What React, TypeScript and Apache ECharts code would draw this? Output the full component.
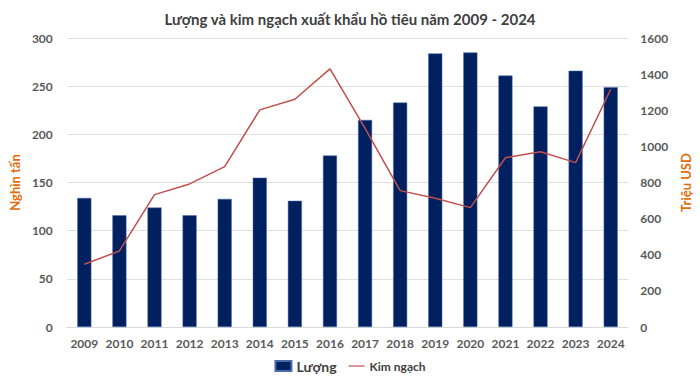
import React, { useEffect, useRef } from "react";
import * as echarts from "echarts";

const years = ["2009","2010","2011","2012","2013","2014","2015","2016","2017","2018","2019","2020","2021","2022","2023","2024"];
const volume = [134, 116, 124, 116, 133, 155, 131, 178, 215, 233, 284, 285, 261, 229, 266, 249];
const value = [347, 421, 733, 792, 888, 1202, 1261, 1429, 1100, 755, 713, 661, 937, 970, 910, 1316];

const FONT = "Lato, 'Open Sans', sans-serif";

export default function App() {
  const ref = useRef<HTMLDivElement>(null);
  useEffect(() => {
    if (!ref.current) return;
    const chart = echarts.init(ref.current, undefined, { renderer: "svg" });
    chart.setOption({
      animation: false,
      backgroundColor: "#ffffff",
      textStyle: { fontFamily: FONT },
      title: {
        text: "Lượng và kim ngạch xuất khẩu hồ tiêu năm 2009 - 2024",
        left: "center",
        top: 6,
        textStyle: { fontFamily: FONT, fontSize: 15, fontWeight: "bold", color: "#404040" },
      },
      legend: {
        bottom: 4,
        left: "center",
        itemGap: 12,
        itemWidth: 16,
        itemHeight: 10,
        data: [
          { name: "Lượng", icon: "rect", textStyle: { fontSize: 14, color: "#404040", fontWeight: "bold" } },
          { name: "Kim ngạch", icon: "path://M0,5 L20,5 L20,6.5 L0,6.5 Z", itemStyle: { color: "#C0504D" }, textStyle: { fontSize: 12, color: "#404040", fontWeight: "bold" } },
        ],
        textStyle: { fontFamily: FONT },
      },
      grid: { left: 61, right: 68, top: 38, bottom: 55 },
      xAxis: {
        type: "category",
        data: years,
        axisLine: { lineStyle: { color: "#d9d9d9" } },
        axisTick: { show: false },
        axisLabel: { color: "#595959", fontWeight: "bold", fontSize: 12, margin: 10, fontFamily: FONT, interval: 0 },
      },
      yAxis: [
        {
          type: "value",
          min: 0,
          max: 300,
          interval: 50,
          name: "Nghìn tấn",
          nameLocation: "middle",
          nameRotate: 90,
          nameGap: 40,
          nameTextStyle: { color: "#E46C0A", fontWeight: "bold", fontSize: 13, fontFamily: FONT },
          axisLine: { show: false },
          axisTick: { show: false },
          axisLabel: { color: "#595959", fontWeight: "bold", fontSize: 12, margin: 14, fontFamily: FONT },
          splitLine: { lineStyle: { color: "#e0e0e0" } },
        },
        {
          type: "value",
          min: 0,
          max: 1600,
          interval: 200,
          name: "Triệu USD",
          nameLocation: "middle",
          nameRotate: 90,
          nameGap: 42,
          nameTextStyle: { color: "#E46C0A", fontWeight: "bold", fontSize: 13, fontFamily: FONT },
          axisLine: { show: false },
          axisTick: { show: false },
          axisLabel: {
            color: "#595959",
            fontWeight: "bold",
            fontSize: 12,
            margin: 12,
            fontFamily: FONT,
            formatter: (v: number) => String(v),
          },
          splitLine: { show: false },
        },
      ],
      series: [
        {
          name: "Lượng",
          type: "bar",
          data: volume,
          barWidth: "40%",
          itemStyle: { color: "#002060", borderColor: "#4a6aa8", borderWidth: 0.5 },
        },
        {
          name: "Kim ngạch",
          type: "line",
          yAxisIndex: 1,
          data: value,
          symbol: "none",
          lineStyle: { color: "#C0504D", width: 1.5 },
          itemStyle: { color: "#C0504D" },
        },
      ],
    });
    return () => chart.dispose();
  }, []);
  return <div ref={ref} style={{ width: 700, height: 382, position: "absolute", left: 0, top: 0 }} />;
}
